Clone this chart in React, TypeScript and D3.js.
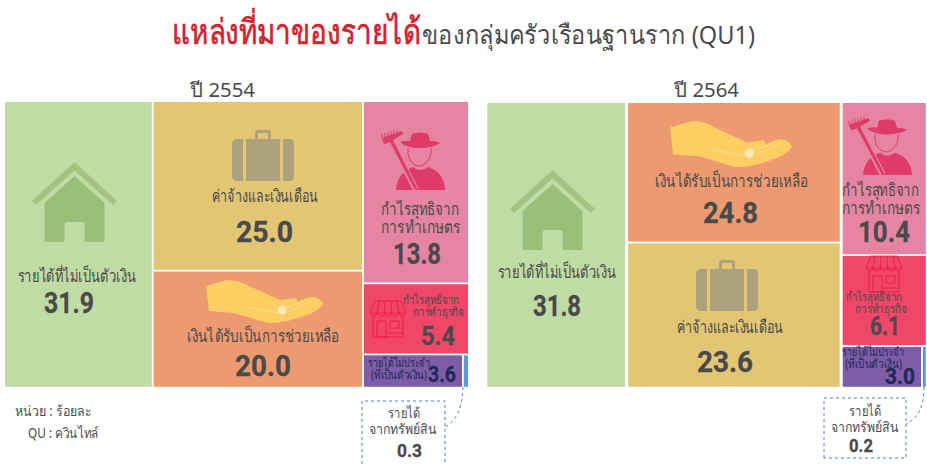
import React from "react";
import * as d3 from "d3";

// Reported values (percent) per category
const categories = ["nonCash", "wages", "aid", "farm", "business", "irregular", "assets"];
const values2554 = [31.9, 25.0, 20.0, 13.8, 5.4, 3.6, 0.3];
const values2564 = [31.8, 23.6, 24.8, 10.4, 6.1, 3.0, 0.2];
// Area each box really takes in the picture (the source is not strictly proportional)
const areas2554 = [32.0, 26.8, 18.5, 14.5, 5.65, 2.5, 0.15];
const areas2564 = [31.9, 24.7, 23.9, 10.45, 6.2, 2.69, 0.16];
const years = ["ปี 2554", "ปี 2564"];

const colors: Record<string, string> = {
  nonCash: "#bfdca5", wages: "#e2c674", aid: "#ee9a71", farm: "#e585a3",
  business: "#f04668", irregular: "#7d5ca8", assets: "#5b9bd5",
};
const FONT = "'Noto Sans', 'Noto Sans CJK SC', sans-serif";
const INK = "#4a4a4a";

type Tree = { name: string; value?: number; children?: Tree[] };

function layout(areas: number[], midOrder: [number, number], box: number[], outerGap: number) {
  const leaf = (i: number): Tree => ({ name: categories[i], value: areas[i] });
  const tree: Tree = {
    name: "root",
    children: [
      leaf(0),
      { name: "mid", children: midOrder.map(leaf) },
      { name: "right", children: [leaf(3), leaf(4), { name: "small", children: [leaf(5), leaf(6)] }] },
    ],
  };
  const root = d3.hierarchy(tree).sum((d) => d.value ?? 0);
  d3.treemap<Tree>()
    .tile(d3.treemapSliceDice)
    .size([box[2] - box[0], box[3] - box[1]])
    .round(false)
    .paddingInner((n) => (n.depth === 0 ? outerGap : 1.8))(root);
  return (root.leaves() as d3.HierarchyRectangularNode<Tree>[]).map((n) => ({
    name: n.data.name,
    x: n.x0 + box[0],
    y: n.y0 + box[1],
    w: n.x1 - n.x0,
    h: n.y1 - n.y0,
  }));
}

function T(p: { x0: number; x1: number; y: number; s: number; t: string; c?: string; w?: number; f?: string; sw?: number }) {
  return (
    <text
      x={p.x0}
      y={p.y}
      fontSize={p.s}
      fontFamily={p.f ?? FONT}
      fontWeight={p.w ?? 400}
      fill={p.c ?? INK}
      stroke={p.sw ? p.c ?? INK : undefined}
      strokeWidth={p.sw}
      textLength={p.x1 - p.x0}
      lengthAdjust="spacingAndGlyphs"
    >
      {p.t}
    </text>
  );
}
const N = (p: { x0: number; x1: number; y: number; s: number; v: number; c?: string }) => (
  <T x0={p.x0} x1={p.x1} y={p.y} s={p.s} t={d3.format(".1f")(p.v)} c={p.c} w={700} f="Roboto, sans-serif" sw={0.3} />
);

function Fit(p: { x: number; y: number; w: number; h: number; vw: number; vh: number; children: React.ReactNode }) {
  return <g transform={`translate(${p.x},${p.y}) scale(${p.w / p.vw},${p.h / p.vh})`}>{p.children}</g>;
}

const House = (p: { x: number; y: number }) => (
  <Fit x={p.x} y={p.y} w={85} h={81} vw={85} vh={81}>
    <path d="M42.5 0 L85 39 L81 43 L42.5 8.5 L4 43 L0 39 Z" fill="#a1c580" />
    <path d="M42.5 14 L72.5 41 V80 H52.5 V62 Q52.5 60 50 60 H35 Q32.5 60 32.5 62 V80 H12.5 V41 Z" fill="#9abf78" />
  </Fit>
);
const Bag = (p: { x: number; y: number }) => (
  <Fit x={p.x} y={p.y} w={62} h={51} vw={62} vh={51}>
    <g fill="#aea17d">
      <path d="M5 9 H11 V51 H5 Q0 51 0 46 V14 Q0 9 5 9 Z" />
      <rect x={14} y={9} width={34} height={42} />
      <path d="M51 9 H57 Q62 9 62 14 V46 Q62 51 57 51 H51 Z" />
      <path d="M23 9 V3 Q23 0 26 0 H36 Q39 0 39 3 V9 H36 V3 H26 V9 Z" />
    </g>
  </Fit>
);
const Hand = (p: { x: number; y: number; w: number; h: number }) => (
  <Fit x={p.x} y={p.y} w={p.w} h={p.h} vw={117} vh={43}>
    <path
      d="M0 6 L21 0 Q33 0 45 7 L74 20 Q85 19 90 18 L92 22 Q100 17 108 17 Q115 19 117 24 Q112 32 98 36 Q80 43 62 43 L28 33 L3 31 Z"
      fill="#fdcf63"
    />
    <path d="M42 27 L72 33 M78 28 L96 22 M84 31 L106 21" stroke="#fbe19b" strokeWidth={0.8} fill="none" />
    <ellipse cx={76} cy={30} rx={4.5} ry={4.5} fill="#fbe9b6" />
  </Fit>
);
const Farmer = (p: { x: number; y: number; h: number }) => (
  <Fit x={p.x} y={p.y} w={63} h={p.h} vw={63} vh={60}>
    <g fill="#de3b68">
      <path d="M14 60 Q15 43 31 37 Q38 43 46 37 Q62 42 63 60 Z" />
    </g>
    <path d="M9 11 L34 60" stroke="#e585a3" strokeWidth={6} fill="none" />
    <g fill="#de3b68">
      <path d="M18 12 Q24 10 28 11 L30 4 Q38 1 46 4 L48 11 Q54 11 58 13 Q52 18 38 18 Q24 18 18 12 Z" />
      <path d="M0 8 L20 1 L21 4 L11 10 L36 60 H33 L8 12 L2 14 Z" />
    </g>
    <path d="M26 18 Q25 31 33 35 Q38 38 44 33 Q50 27 49 18" fill="none" stroke="#de3b68" strokeWidth={1} />
    <path d="M0 8 V4 M3 7 V3 M6 6 V2 M9 5 V1 M12 4 V0 M15 3 V0" stroke="#de3b68" strokeWidth={1} />
  </Fit>
);
const Shop = (p: { x: number; y: number }) => (
  <Fit x={p.x} y={p.y} w={36} h={36} vw={36} vh={36}>
    <g fill="none" stroke="#ef1540" strokeWidth={0.8}>
      <path d="M5 0 H31 L36 12 Q33 17 29 13 Q25 17 22 13 Q18 17 15 13 Q11 17 7 13 Q3 17 0 12 Z" />
      <path d="M0 12 H36 M9 0 L7 13 M15 0 L14.5 13 M21 0 L21.5 13 M27 0 L29 13" />
      <path d="M3 15 V36 H33 V15" />
      <rect x={7} y={20} width={9} height={16} />
      <rect x={20} y={20} width={9} height={7} />
      <path d="M17 32 H33" />
    </g>
  </Fit>
);

function Callout(p: { x0: number; y0: number; x1: number; y1: number | null; path: string }) {
  const dash = { stroke: "#4a7fd0", strokeWidth: 1, strokeDasharray: "3 3", fill: "none" };
  const y1 = p.y1 ?? 470;
  return (
    <g>
      <path d={`M${p.x0} ${y1} V${p.y0} H${p.x1} V${y1}${p.y1 === null ? "" : ` H${p.x0}`}`} {...dash} />
      <path d={p.path} {...dash} />
    </g>
  );
}

export default function App() {
  const a = layout(areas2554, [1, 2], [5, 102, 468, 386.8], 1.8);
  const b = layout(areas2564, [2, 1], [487.3, 103, 925.8, 386.8], 3);
  return (
    <svg
      width={927}
      height={464}
      style={{ position: "absolute", left: 0, top: 0, display: "block", background: "#fff" }}
    >
      <T x0={172} x1={421} y={44} s={35} t="แหล่งที่มาของรายได้" c="#d2232f" w={400} sw={0.7} />
      <T x0={422} x1={755} y={44} s={26} t="ของกลุ่มครัวเรือนฐานราก (QU1)" />
      <T x0={190} x1={255} y={97} s={20} t={years[0]} />
      <T x0={674} x1={739} y={97} s={20} t={years[1]} />

      {[...a, ...b].map((n, i) => (
        <rect key={i} x={n.x} y={n.y} width={n.w} height={n.h} fill={colors[n.name]} />
      ))}

      {/* 2554 */}
      <House x={32} y={162} />
      <Bag x={232} y={130} />
      <Hand x={206} y={280} w={117} h={43} />
      <Farmer x={382} y={130} h={60} />
      <Shop x={370} y={301} />
      <T x0={17.5} x1={136} y={282} s={17} t="รายได้ที่ไม่เป็นตัวเงิน" />
      <N x0={44} x1={94} y={313} s={30} v={values2554[0]} />
      <T x0={212} x1={318} y={202} s={17} t="ค่าจ้างและเงินเดือน" />
      <N x0={236} x1={293} y={242} s={30} v={values2554[1]} />
      <T x0={187} x1={339} y={342} s={17} t="เงินได้รับเป็นการช่วยเหลือ" />
      <N x0={235} x1={291} y={376} s={30} v={values2554[2]} />
      <T x0={381} x1={459} y={215} s={17} t="กำไรสุทธิจาก" />
      <T x0={381} x1={460} y={233} s={17} t="การทำเกษตร" />
      <N x0={393} x1={441} y={264} s={30} v={values2554[3]} />
      <T x0={403} x1={459} y={304} s={12} t="กำไรสุทธิจาก" />
      <T x0={413} x1={464} y={316} s={12} t="การทำธุรกิจ" />
      <N x0={421} x1={455} y={345} s={26} v={values2554[4]} />
      <T x0={368} x1={430} y={367} s={12} t="รายได้ไม่ประจำ" c="#1f2a55" />
      <T x0={371} x1={427} y={379} s={12} t="(ที่เป็นตัวเงิน)" c="#1f2a55" />
      <N x0={428} x1={456} y={382} s={22} v={values2554[5]} c="#1f2a55" />
      <Callout x0={362} y0={401} x1={445} y1={null} path="M463 387 Q462 418 445 427" />
      <T x0={388} x1={420} y={418} s={14} t="รายได้" />
      <T x0={369} x1={437} y={434} s={14} t="จากทรัพย์สิน" />
      <N x0={397} x1={422} y={457} s={19} v={values2554[6]} />
      <T x0={15} x1={92} y={416} s={14} t="หน่วย : ร้อยละ" />
      <T x0={28} x1={99} y={438} s={14} t="QU : ควินไทล์" />

      {/* 2564 */}
      <House x={510} y={170} />
      <Hand x={670} y={121} w={122} h={46} />
      <Bag x={696} y={260} />
      <Farmer x={849} y={117} h={58} />
      <Shop x={866} y={256} />
      <T x0={497.5} x1={616} y={278} s={17} t="รายได้ที่ไม่เป็นตัวเงิน" />
      <N x0={533} x1={581} y={316} s={30} v={values2564[0]} />
      <T x0={655} x1={808} y={187} s={17} t="เงินได้รับเป็นการช่วยเหลือ" />
      <N x0={703} x1={758} y={223} s={30} v={values2564[2]} />
      <T x0={677} x1={783} y={333} s={17} t="ค่าจ้างและเงินเดือน" />
      <N x0={697} x1={753} y={372} s={30} v={values2564[1]} />
      <T x0={842} x1={919} y={196} s={17} t="กำไรสุทธิจาก" />
      <T x0={842} x1={920} y={214} s={17} t="การทำเกษตร" />
      <N x0={858} x1={910} y={242} s={30} v={values2564[3]} />
      <T x0={846} x1={902} y={301} s={12} t="กำไรสุทธิจาก" />
      <T x0={855} x1={907} y={313} s={12} t="การทำธุรกิจ" />
      <N x0={870} x1={900} y={335} s={26} v={values2564[4]} />
      <T x0={842} x1={904} y={356} s={12} t="รายได้ไม่ประจำ" c="#1f2a55" />
      <T x0={845} x1={902} y={368} s={12} t="(ที่เป็นตัวเงิน)" c="#1f2a55" />
      <N x0={885} x1={915} y={384} s={22} v={values2564[5]} c="#1f2a55" />
      <Callout x0={824} y0={398} x1={906} y1={458} path="M924 387 Q924 416 906 424" />
      <T x0={849} x1={881} y={416} s={14} t="รายได้" />
      <T x0={831} x1={899} y={432} s={14} t="จากทรัพย์สิน" />
      <N x0={849} x1={873} y={452} s={19} v={values2564[6]} />
    </svg>
  );
}
